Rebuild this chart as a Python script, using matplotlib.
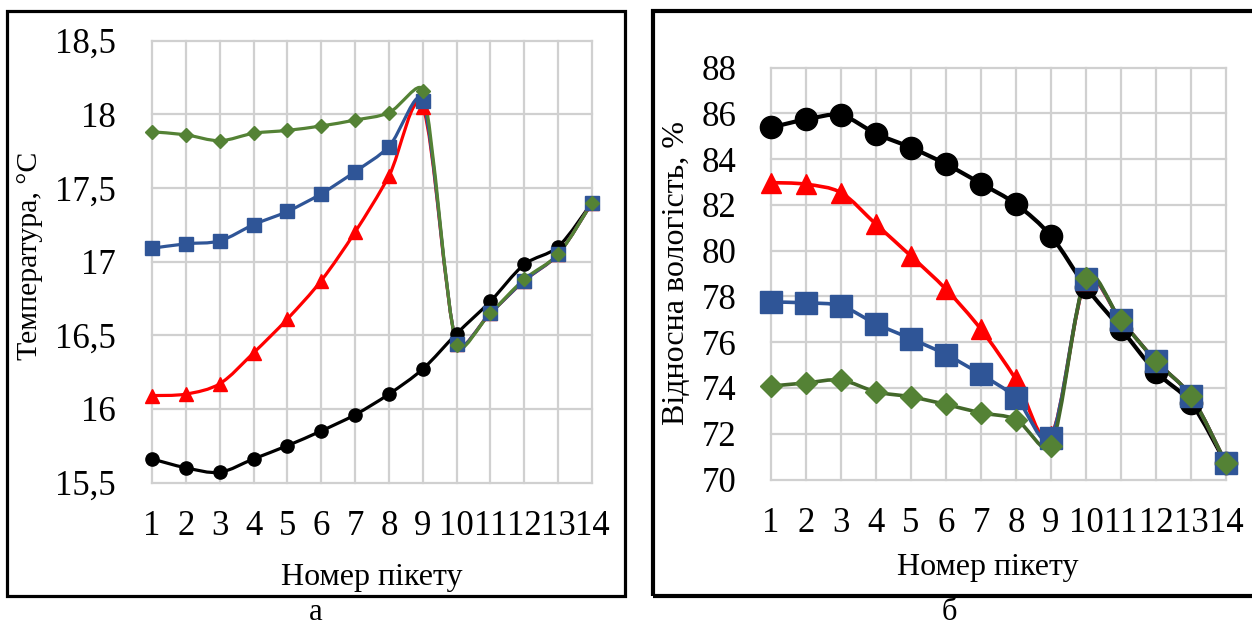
import matplotlib
matplotlib.use('Agg')
import numpy as np
import matplotlib.pyplot as plt
from matplotlib.path import Path
from matplotlib.patches import PathPatch, Rectangle

plt.rcParams['font.family'] = ['Liberation Serif', 'DejaVu Serif']

pikets = list(range(1, 15))

# а: температура, °C
temp_black = [15.66, 15.60, 15.57, 15.66, 15.75, 15.85, 15.96, 16.10, 16.27, 16.51, 16.73, 16.98, 17.10, 17.40]
temp_red = [16.09, 16.10, 16.17, 16.38, 16.61, 16.87, 17.20, 17.58, 18.05, 16.44, 16.65, 16.87, 17.05, 17.40]
temp_blue = [17.09, 17.12, 17.14, 17.25, 17.34, 17.46, 17.61, 17.78, 18.09, 16.44, 16.65, 16.87, 17.05, 17.40]
temp_green = [17.88, 17.86, 17.82, 17.87, 17.89, 17.92, 17.96, 18.01, 18.16, 16.43, 16.65, 16.88, 17.05, 17.40]
temp_ticks = [15.5, 16, 16.5, 17, 17.5, 18, 18.5]

# б: відносна вологість, %
hum_black = [85.38, 85.73, 85.91, 85.11, 84.50, 83.78, 82.93, 82.03, 80.64, 78.40, 76.58, 74.70, 73.35, 70.70]
hum_red = [82.97, 82.90, 82.53, 81.15, 79.76, 78.31, 76.56, 74.37, 71.90, 78.70, 76.95, 75.17, 73.64, 70.70]
hum_blue = [77.75, 77.72, 77.58, 76.80, 76.15, 75.46, 74.59, 73.57, 71.82, 78.74, 76.95, 75.17, 73.64, 70.70]
hum_green = [74.08, 74.22, 74.34, 73.83, 73.61, 73.28, 72.91, 72.62, 71.45, 78.82, 76.95, 75.17, 73.64, 70.70]
hum_ticks = list(range(70, 90, 2))

W, H = 1252, 628


def smooth_path(ax, x, y):
    # Excel-like smoothed line: cubic Bezier in screen space,
    # control arms limited to a third of their segment
    p = ax.transData.transform(np.column_stack([x, y]))
    n = len(p)
    verts = [p[0]]
    codes = [Path.MOVETO]
    for i in range(n - 1):
        a = p[i - 1] if i > 0 else p[i]
        b = p[i + 2] if i + 2 < n else p[i + 1]
        seg = np.hypot(*(p[i + 1] - p[i]))
        t1 = (p[i + 1] - a) / 6
        t2 = (b - p[i]) / 6
        for t in (t1, t2):
            ln = np.hypot(*t)
            if ln > seg / 3:
                t *= (seg / 3) / ln
        verts += [p[i] + t1, p[i + 1] - t2, p[i + 1]]
        codes += [Path.CURVE4] * 3
    verts = ax.transData.inverted().transform(np.array(verts))
    return Path(verts, codes)


def px_axes(fig, x0, y0, x1, y1):
    return fig.add_axes([x0 / W, 1 - y1 / H, (x1 - x0) / W, (y1 - y0) / H])


def style(ax, ylim, ticks, fmt, ypad):
    ax.set_xlim(1, 14)
    ax.set_ylim(*ylim)
    ax.set_xticks(pikets)
    ax.set_xticklabels([str(p) for p in pikets], fontsize=25)
    ax.set_yticks(ticks)
    ax.set_yticklabels([fmt(t) for t in ticks], fontsize=25)
    ax.tick_params(length=0)
    ax.tick_params(axis='x', pad=20)
    ax.tick_params(axis='y', pad=ypad)
    for s in ax.spines.values():
        s.set_visible(False)
    ax.grid(True, color='#d0d0d0', lw=1.6)
    for g in ax.xaxis.get_gridlines() + ax.yaxis.get_gridlines():
        g.set_clip_on(False)
    ax.set_axisbelow(True)


def series(ax, y, color, lcolor, marker, ms, lw):
    ax.add_patch(PathPatch(smooth_path(ax, pikets, y), facecolor='none', edgecolor=lcolor,
                           lw=lw, clip_on=False, zorder=3))
    ax.plot(pikets, y, linestyle='none', marker=marker, ms=ms, color=color,
            mec=color, clip_on=False, zorder=4)


fig = plt.figure(figsize=(W / 100, H / 100), dpi=100)

# ---- а ----
ax1 = px_axes(fig, 152, 40.5, 592, 482.5)
style(ax1, (15.5, 18.5), temp_ticks, lambda t: f'{t:g}'.replace('.', ','), 26)
series(ax1, temp_black, 'black', 'black', 'o', 9.5, 2.3)
series(ax1, temp_red, '#ff0000', '#ff0000', '^', 9.5, 2.3)
series(ax1, temp_blue, '#2f5597', '#2f5597', 's', 9.5, 2.3)
series(ax1, temp_green, '#548235', '#548235', 'D', 7.2, 2.3)
fig.text(30 / W, 1 - 256 / H, 'Температура, °С', rotation=90, ha='center', va='center', fontsize=21.5)
fig.text(372 / W, 1 - 577 / H, 'Номер пікету', ha='center', va='center', fontsize=23)
fig.text(316 / W, 1 - 612 / H, 'а', ha='center', va='center', fontsize=22)

# ---- б ----
ax2 = px_axes(fig, 771, 67.5, 1226, 479.5)
style(ax2, (70, 88), hum_ticks, lambda t: f'{t:g}', 25)
series(ax2, hum_black, 'black', 'black', 'o', 16, 3.0)
series(ax2, hum_red, '#ff0000', '#ff0000', '^', 15, 2.6)
series(ax2, hum_blue, '#2f5597', '#2f5597', 's', 16.5, 2.6)
series(ax2, hum_green, '#548235', '#43682a', 'D', 11, 2.6)
fig.text(677 / W, 1 - 273 / H, 'Відносна вологість, %', rotation=90, ha='center', va='center', fontsize=23)
fig.text(988 / W, 1 - 567 / H, 'Номер пікету', ha='center', va='center', fontsize=23)
fig.text(949 / W, 1 - 612 / H, 'б', ha='center', va='center', fontsize=22)

# frames around both panels
fig.add_artist(Rectangle((7 / W, 1 - 596 / H), 618 / W, 585 / H, transform=fig.transFigure,
                         fill=False, ec='black', lw=2.3))
fig.add_artist(Rectangle((653 / W, 1 - 596 / H), 620 / W, 585 / H, transform=fig.transFigure,
                         fill=False, ec='black', lw=3.0, clip_on=False))

fig.savefig('out.png', dpi=100)
